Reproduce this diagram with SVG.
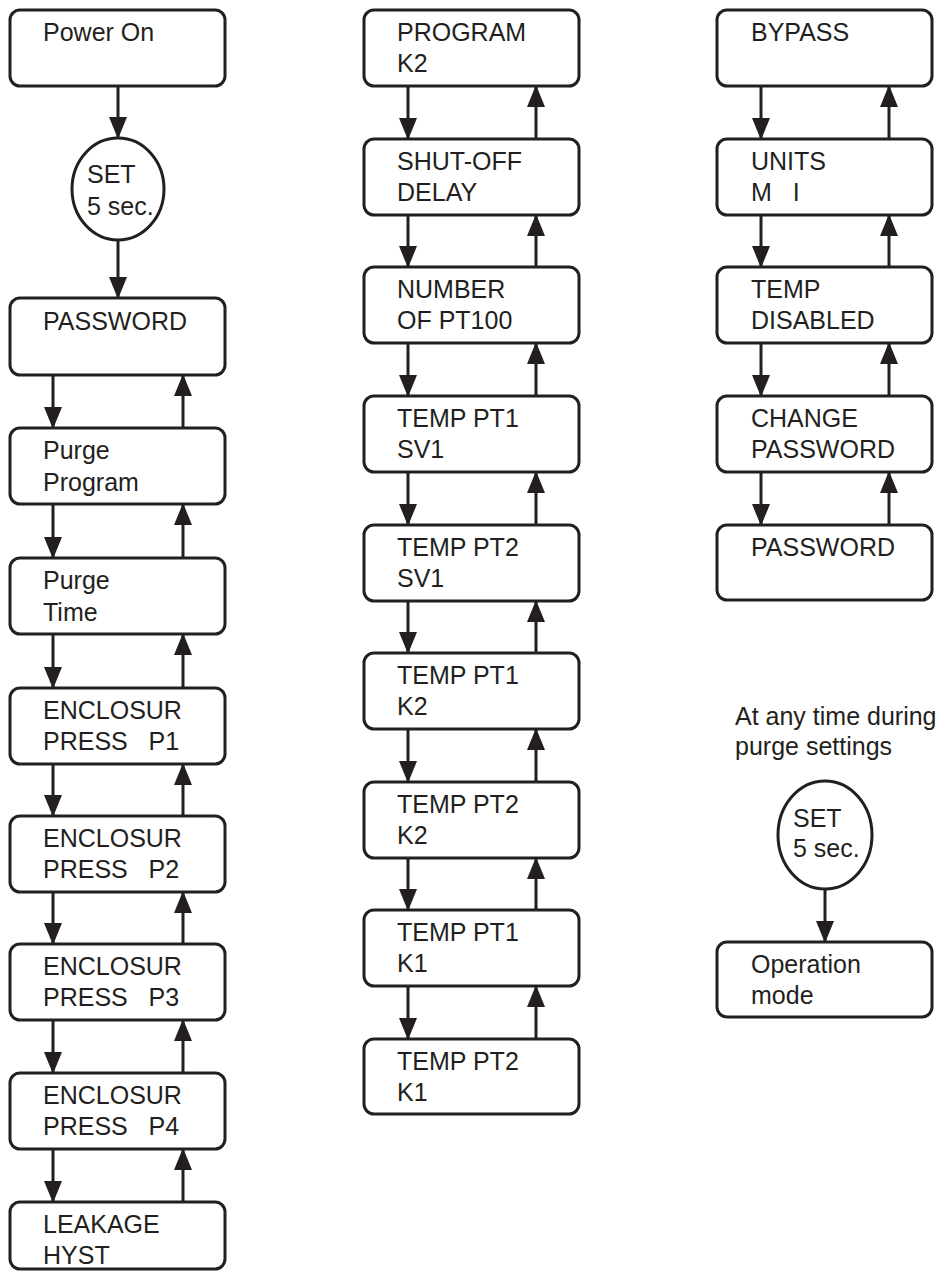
<svg xmlns="http://www.w3.org/2000/svg" width="945" height="1275" viewBox="0 0 945 1275">
<style>
.box{fill:#fff;stroke:#231f20;stroke-width:3}
.ell{fill:#fff;stroke:#231f20;stroke-width:3}
.t{font-family:"Liberation Sans",Arial,Helvetica,sans-serif;font-size:25px;fill:#231f20;white-space:pre}
.c line{stroke:#231f20;stroke-width:3;marker-end:url(#ah)}
</style>
<defs>
<marker id="ah" markerUnits="userSpaceOnUse" viewBox="0 0 22 18" markerWidth="22" markerHeight="18" refX="21" refY="9" orient="auto">
<path d="M0,0 L22,9 L0,18 z" fill="#231f20"/>
</marker>
</defs>
<rect width="945" height="1275" fill="#fff"/>

<g class="c" id="connectors">
<!-- left column -->
<line x1="118" y1="87" x2="118" y2="138"/>
<line x1="118" y1="241" x2="118" y2="298"/>
<line x1="53" y1="375" x2="53" y2="428"/>
<line x1="183" y1="428" x2="183" y2="375"/>
<line x1="53" y1="504" x2="53" y2="558"/>
<line x1="183" y1="558" x2="183" y2="504"/>
<line x1="53" y1="634" x2="53" y2="688"/>
<line x1="183" y1="688" x2="183" y2="634"/>
<line x1="53" y1="764" x2="53" y2="816"/>
<line x1="183" y1="816" x2="183" y2="764"/>
<line x1="53" y1="892" x2="53" y2="944"/>
<line x1="183" y1="944" x2="183" y2="892"/>
<line x1="53" y1="1020" x2="53" y2="1073"/>
<line x1="183" y1="1073" x2="183" y2="1020"/>
<line x1="53" y1="1149" x2="53" y2="1202"/>
<line x1="183" y1="1202" x2="183" y2="1149"/>
<!-- middle column -->
<line x1="408" y1="86" x2="408" y2="139"/>
<line x1="536" y1="139" x2="536" y2="86"/>
<line x1="408" y1="215" x2="408" y2="267"/>
<line x1="536" y1="267" x2="536" y2="215"/>
<line x1="408" y1="343" x2="408" y2="396"/>
<line x1="536" y1="396" x2="536" y2="343"/>
<line x1="408" y1="472" x2="408" y2="525"/>
<line x1="536" y1="525" x2="536" y2="472"/>
<line x1="408" y1="601" x2="408" y2="653"/>
<line x1="536" y1="653" x2="536" y2="601"/>
<line x1="408" y1="729" x2="408" y2="782"/>
<line x1="536" y1="782" x2="536" y2="729"/>
<line x1="408" y1="858" x2="408" y2="910"/>
<line x1="536" y1="910" x2="536" y2="858"/>
<line x1="408" y1="986" x2="408" y2="1039"/>
<line x1="536" y1="1039" x2="536" y2="986"/>
<!-- right column -->
<line x1="761" y1="86" x2="761" y2="139"/>
<line x1="889" y1="139" x2="889" y2="86"/>
<line x1="761" y1="215" x2="761" y2="267"/>
<line x1="889" y1="267" x2="889" y2="215"/>
<line x1="761" y1="343" x2="761" y2="396"/>
<line x1="889" y1="396" x2="889" y2="343"/>
<line x1="761" y1="472" x2="761" y2="525"/>
<line x1="889" y1="525" x2="889" y2="472"/>
<line x1="825" y1="889" x2="825" y2="942"/>
</g>

<!-- left column nodes -->
<g id="power-on"><rect class="box" x="10" y="10" width="215" height="76" rx="10"/><text class="t" x="43" y="41">Power On</text></g>
<g id="set1"><ellipse class="ell" cx="118" cy="189" rx="46" ry="51"/><text class="t" x="87" y="183">SET</text><text class="t" x="87" y="215">5 sec.</text></g>
<g id="password1"><rect class="box" x="10" y="298" width="215" height="77" rx="10"/><text class="t" x="43" y="330">PASSWORD</text></g>
<g id="purge-program"><rect class="box" x="10" y="428" width="215" height="76" rx="10"/><text class="t" x="43" y="459">Purge</text><text class="t" x="43" y="491">Program</text></g>
<g id="purge-time"><rect class="box" x="10" y="558" width="215" height="76" rx="10"/><text class="t" x="43" y="589">Purge</text><text class="t" x="43" y="621">Time</text></g>
<g id="press-p1"><rect class="box" x="10" y="688" width="215" height="76" rx="10"/><text class="t" x="43" y="719">ENCLOSUR</text><text class="t" x="43" y="750">PRESS   P1</text></g>
<g id="press-p2"><rect class="box" x="10" y="816" width="215" height="76" rx="10"/><text class="t" x="43" y="847">ENCLOSUR</text><text class="t" x="43" y="878">PRESS   P2</text></g>
<g id="press-p3"><rect class="box" x="10" y="944" width="215" height="76" rx="10"/><text class="t" x="43" y="975">ENCLOSUR</text><text class="t" x="43" y="1006">PRESS   P3</text></g>
<g id="press-p4"><rect class="box" x="10" y="1073" width="215" height="76" rx="10"/><text class="t" x="43" y="1104">ENCLOSUR</text><text class="t" x="43" y="1135">PRESS   P4</text></g>
<g id="leakage"><rect class="box" x="10" y="1202" width="215" height="67" rx="10"/><text class="t" x="43" y="1233">LEAKAGE</text><text class="t" x="43" y="1264">HYST</text></g>

<!-- middle column nodes -->
<g id="program-k2"><rect class="box" x="364" y="10" width="215" height="76" rx="10"/><text class="t" x="397" y="41">PROGRAM</text><text class="t" x="397" y="72">K2</text></g>
<g id="shutoff"><rect class="box" x="364" y="139" width="215" height="76" rx="10"/><text class="t" x="397" y="170">SHUT-OFF</text><text class="t" x="397" y="201">DELAY</text></g>
<g id="number-pt100"><rect class="box" x="364" y="267" width="215" height="76" rx="10"/><text class="t" x="397" y="298">NUMBER</text><text class="t" x="397" y="329">OF PT100</text></g>
<g id="pt1-sv1"><rect class="box" x="364" y="396" width="215" height="76" rx="10"/><text class="t" x="397" y="427">TEMP PT1</text><text class="t" x="397" y="458">SV1</text></g>
<g id="pt2-sv1"><rect class="box" x="364" y="525" width="215" height="76" rx="10"/><text class="t" x="397" y="556">TEMP PT2</text><text class="t" x="397" y="587">SV1</text></g>
<g id="pt1-k2"><rect class="box" x="364" y="653" width="215" height="76" rx="10"/><text class="t" x="397" y="684">TEMP PT1</text><text class="t" x="397" y="715">K2</text></g>
<g id="pt2-k2"><rect class="box" x="364" y="782" width="215" height="76" rx="10"/><text class="t" x="397" y="813">TEMP PT2</text><text class="t" x="397" y="844">K2</text></g>
<g id="pt1-k1"><rect class="box" x="364" y="910" width="215" height="76" rx="10"/><text class="t" x="397" y="941">TEMP PT1</text><text class="t" x="397" y="972">K1</text></g>
<g id="pt2-k1"><rect class="box" x="364" y="1039" width="215" height="75" rx="10"/><text class="t" x="397" y="1070">TEMP PT2</text><text class="t" x="397" y="1101">K1</text></g>

<!-- right column nodes -->
<g id="bypass"><rect class="box" x="717" y="10" width="215" height="76" rx="10"/><text class="t" x="751" y="41">BYPASS</text></g>
<g id="units"><rect class="box" x="717" y="139" width="215" height="76" rx="10"/><text class="t" x="751" y="170">UNITS</text><text class="t" x="751" y="201">M   I</text></g>
<g id="temp-disabled"><rect class="box" x="717" y="267" width="215" height="76" rx="10"/><text class="t" x="751" y="298">TEMP</text><text class="t" x="751" y="329">DISABLED</text></g>
<g id="change-password"><rect class="box" x="717" y="396" width="215" height="76" rx="10"/><text class="t" x="751" y="427">CHANGE</text><text class="t" x="751" y="458">PASSWORD</text></g>
<g id="password2"><rect class="box" x="717" y="525" width="215" height="75" rx="10"/><text class="t" x="751" y="556">PASSWORD</text></g>

<g id="note"><text class="t" x="735" y="725">At any time during</text><text class="t" x="735" y="755">purge settings</text></g>
<g id="set2"><ellipse class="ell" cx="825" cy="835" rx="47" ry="54"/><text class="t" x="793" y="827">SET</text><text class="t" x="793" y="857">5 sec.</text></g>
<g id="operation-mode"><rect class="box" x="717" y="942" width="215" height="75" rx="10"/><text class="t" x="751" y="973">Operation</text><text class="t" x="751" y="1004">mode</text></g>
</svg>
